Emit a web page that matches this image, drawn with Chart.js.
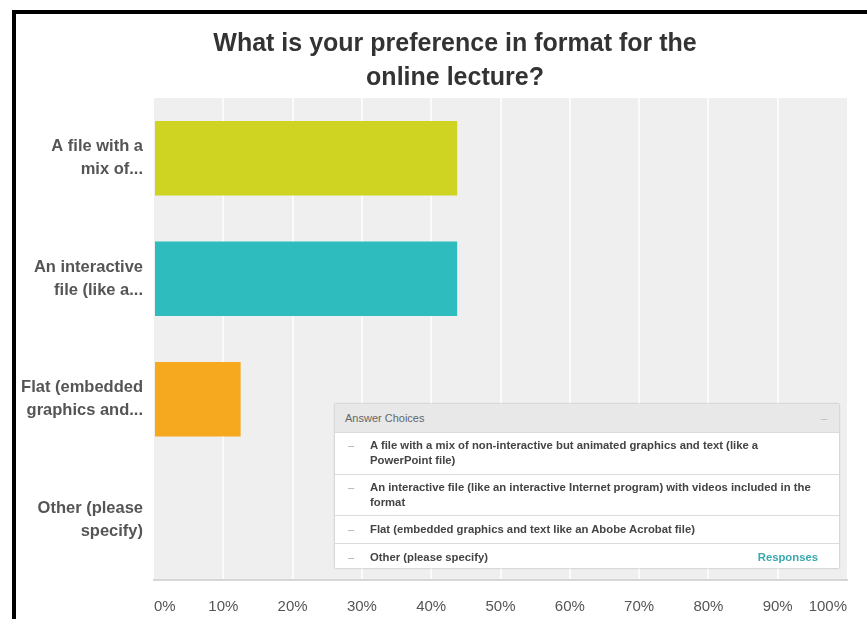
<!DOCTYPE html>
<html><head><meta charset="utf-8">
<script src="https://cdn.jsdelivr.net/npm/chart.js@4"></script>
<style>
html,body{margin:0;padding:0;background:#fff;width:867px;height:619px;overflow:hidden;}
#frame{position:absolute;left:12px;top:10px;width:851px;height:605px;border-left:4px solid #000;border-top:4px solid #000;overflow:hidden;}
#c{position:absolute;left:0;top:0;}
#answers{position:absolute;left:335px;top:404px;width:504px;height:164px;background:#fff;box-shadow:0 0 2px rgba(0,0,0,0.3);font-family:"Liberation Sans",Arial,sans-serif;}
#answers .hd{position:absolute;left:0;top:0;width:504px;height:28px;background:#e8e8e8;color:#666;font-size:11px;line-height:28px;}
#answers .hd span.t{position:absolute;left:10px;}
#answers .hd span.m{position:absolute;right:12px;color:#bbb;}
#answers .row{position:absolute;left:0;width:504px;border-top:1px solid #dcdcdc;color:#444;font-size:11.3px;font-weight:bold;}
#answers .row .m{position:absolute;left:13px;color:#aaa;font-weight:normal;}
#answers .row .t{position:absolute;left:35px;width:468px;white-space:nowrap;line-height:15px;}
#answers .row .r{position:absolute;right:21px;color:#3aa9ad;}
</style>
</head><body>
<div id="frame"><canvas id="c" width="878" height="605"></canvas></div>
<div id="answers"></div>
<script>
const titleLines = ["What is your preference in format for the", "online lecture?"];
const categories = [["A file with a","mix of..."],["An interactive","file (like a..."],["Flat (embedded","graphics and..."],["Other (please","specify)"]];
const values = [43.75, 43.75, 12.5, 0];
const barColors = ["#cfd321", "#2fbcbe", "#f6a91e"];
const tickValues = [0,10,20,30,40,50,60,70,80,90,100];
const answerChoices = [
  ["A file with a mix of non-interactive but animated graphics and text (like a", "PowerPoint file)"],
  ["An interactive file (like an interactive Internet program) with videos included in the", "format"],
  ["Flat (embedded graphics and text like an Abobe Acrobat file)"],
  ["Other (please specify)"]
];
const answersHeader = "Answer Choices";
const answersRespLabel = "Responses";

// answer choices overlay
(function(){
  const box = document.getElementById('answers');
  const hd = document.createElement('div'); hd.className='hd';
  hd.innerHTML = '<span class="t"></span><span class="m">&#8211;</span>';
  hd.querySelector('.t').textContent = answersHeader;
  box.appendChild(hd);
  const tops = [28, 70, 111, 139];
  const heights = [42, 41, 28, 25];
  answerChoices.forEach((lines,i)=>{
    const r = document.createElement('div'); r.className='row';
    r.style.top = tops[i]+'px'; r.style.height = (heights[i]-1)+'px';
    const padTop = lines.length>1 ? 5 : 6;
    const m = document.createElement('span'); m.className='m'; m.textContent='\u2013';
    m.style.top = padTop+'px'; m.style.lineHeight='15px';
    const t = document.createElement('div'); t.className='t'; t.style.top=padTop+'px';
    t.innerHTML = lines.map(s=>s.replace(/&/g,'&amp;').replace(/</g,'&lt;')).join('<br>');
    r.appendChild(m); r.appendChild(t);
    if(i===answerChoices.length-1){
      const rr=document.createElement('span'); rr.className='r'; rr.textContent=answersRespLabel;
      rr.style.top=padTop+'px'; rr.style.lineHeight='15px'; r.appendChild(rr);
    }
    box.appendChild(r);
  });
})();

const plotBg = {
  id:'plotBg',
  beforeDraw(chart){
    const {ctx, chartArea:a} = chart;
    ctx.save(); ctx.fillStyle='#efefef';
    ctx.fillRect(a.left, a.top, a.right-a.left, a.bottom-a.top);
    ctx.restore();
  }
};

new Chart(document.getElementById('c'), {
  type:'bar',
  data:{ labels: categories, datasets:[{ data: values, backgroundColor: barColors.concat(["#cccccc"]), borderWidth:0, barPercentage:0.62, categoryPercentage:1.0 }]},
  options:{
    indexAxis:'y', responsive:false, animation:false, devicePixelRatio:1,
    layout:{ padding:{ left:0, right:0, top:0, bottom:0 } },
    plugins:{
      legend:{display:false}, tooltip:{enabled:false},
      title:{ display:true, text:titleLines, color:'#333', font:{family:'"Liberation Sans", Arial, sans-serif', size:25, weight:'bold', lineHeight:1.36}, padding:{top:13, bottom:3} }
    },
    scales:{
      x:{ min:0, max:100,
        afterBuildTicks(s){ s.ticks = tickValues.map(v=>({value:v})); },
        afterFit(s){ s.height = 39; },
        grid:{ drawTicks:false, lineWidth:2, color:(c)=> (c.index===0||c.index===tickValues.length-1) ? 'rgba(0,0,0,0)' : '#fbfbfb' },
        border:{ display:true, color:'#d6d6d6', width:2 },
        ticks:{ align:'inner', padding:18, color:'#555', font:{family:'"Liberation Sans", Arial, sans-serif', size:15}, callback:(v)=>v+'%' }
      },
      y:{
        afterFit(s){ s.width = 138; },
        grid:{ display:false, drawTicks:false },
        border:{ display:false },
        ticks:{ padding:11, color:'#555', font:{family:'"Liberation Sans", Arial, sans-serif', size:16.5, weight:'bold', lineHeight:1.4} }
      },
      yPad:{
        type:'category', position:'right', display:true,
        afterFit(s){ s.width = 47; },
        grid:{ display:false, drawTicks:false },
        border:{ display:false },
        ticks:{ display:false }
      }
    }
  },
  plugins:[plotBg]
});
</script>
</body></html>
